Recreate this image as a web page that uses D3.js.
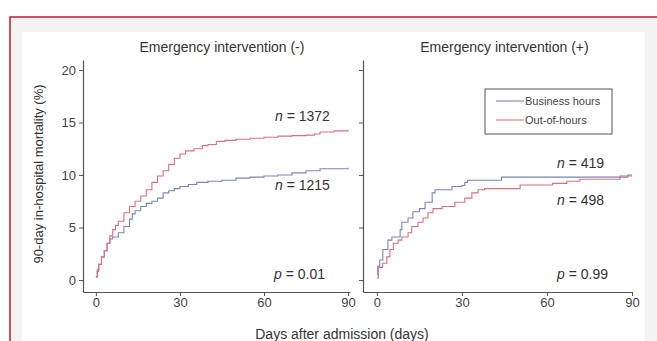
<!DOCTYPE html>
<html>
<head>
<meta charset="utf-8">
<script src="https://cdn.jsdelivr.net/npm/d3@7"></script>
<style>
  body { margin: 0; background: #fff; }
  svg { display: block; font-family: "Liberation Sans", Arial, sans-serif; }
  .axis path, .axis line { stroke: #555; }
  .axis text { fill: #444; font-size: 13px; }
</style>
</head>
<body>
<svg width="657" height="341"></svg>
<script>
const WIDTH = 657, HEIGHT = 341

// cumulative 90-day mortality (%): [day, value]
const leftBusiness = [[0,0.3],[0.5,0.8],[1,1.5],[2,2.2],[3,2.8],[4,3.5],[5,3.9],[6,4.1],[8,4.5],[10,5.1],[12,5.8],[13,6.3],[14,6.6],[16,7.0],[18,7.3],[20,7.5],[22,7.8],[24,8.3],[26,8.5],[28,8.7],[30,8.9],[33,9.1],[36,9.3],[40,9.4],[45,9.5],[50,9.7],[55,9.8],[60,9.9],[65,10.0],[70,10.2],[75,10.4],[80,10.6],[90,10.7]]
const leftOutOfHours = [[0,0.3],[0.5,1.0],[1,1.5],[2,2.2],[3,2.8],[4,3.5],[5,4.2],[6,4.8],[7,5.2],[8,5.6],[10,6.4],[12,7.0],[14,7.5],[16,8.0],[18,8.6],[20,9.3],[22,9.9],[24,10.4],[26,11.0],[28,11.6],[30,12.0],[32,12.3],[35,12.5],[38,12.8],[40,12.9],[43,13.2],[46,13.3],[50,13.4],[55,13.5],[60,13.6],[65,13.7],[70,13.75],[75,13.8],[78,13.9],[80,14.1],[85,14.2],[90,14.3]]
const rightBusiness = [[0,0.5],[0.3,1.3],[1,1.9],[2.1,2.9],[3.9,3.8],[5.3,4.1],[8.2,4.8],[8.8,5.5],[11,5.9],[12.7,6.5],[15,6.8],[17,7.4],[19.5,8.3],[20.5,8.6],[26.5,8.9],[30,9.0],[31,9.3],[32,9.5],[44,9.8],[88.5,10.0],[90,10.0]]
const rightOutOfHours = [[0,0.2],[0.5,1.2],[2,1.6],[3.5,2.2],[4.6,2.9],[5.8,3.5],[7.5,3.8],[8.8,4.1],[11,4.5],[12.3,5.1],[14.5,5.5],[16.3,5.9],[18,6.4],[19.8,6.8],[23,7.0],[27.5,7.4],[31,7.8],[33.5,8.3],[35.7,8.6],[38,8.7],[50.5,9.05],[62,9.2],[67,9.4],[71.6,9.6],[85.8,9.9],[90,9.9]]

const titles = ['Emergency intervention (-)', 'Emergency intervention (+)']
const seriesNames = ['Business hours', 'Out-of-hours']
const nLabels = [['1372', '1215'], ['419', '498']]
const pLabels = ['0.01', '0.99']
const xTicks = [0, 30, 60, 90]
const yTicks = [0, 5, 10, 15, 20]

const colors = ['#7b84b8', '#dc6f7c']

const svg = d3.select('svg')
  .attr('viewBox', `0 0 ${WIDTH} ${HEIGHT}`)

// outer frame + light margin of the figure
svg.append('rect').attr('x', 10).attr('y', 17).attr('width', 700).attr('height', 400)
  .attr('fill', '#f3f3f3').attr('stroke', '#c0182f').attr('stroke-width', 1.5)
svg.append('rect').attr('x', 22).attr('y', 32).attr('width', 623).attr('height', 400)
  .attr('fill', '#fff')

const yScale = d3.scaleLinear().domain([-1.14, 20.95]).range([292, 60])

const panels = [
  { data: [leftBusiness, leftOutOfHours], x: d3.scaleLinear().domain([-4.6, 90.7]).range([83, 350]),
    labels: true, nY: [121, 190], nX: 275, pX: 274 },
  { data: [rightBusiness, rightOutOfHours], x: d3.scaleLinear().domain([-4.9, 90]).range([363, 632]),
    labels: false, nY: [168, 205], nX: 557, pX: 557 }
]

panels.forEach((p, i) => {
  const g = svg.append('g')
  const xs = p.x

  const axisY = d3.axisLeft(yScale).tickValues(yTicks).tickSize(4).tickSizeOuter(0).tickPadding(3)
  if (!p.labels) axisY.tickFormat('')
  g.append('g').attr('class', 'axis')
    .attr('transform', `translate(${xs.range()[0]}, 0)`)
    .call(axisY)

  const axisX = d3.axisBottom(xs).tickValues(xTicks).tickSize(4).tickSizeOuter(0).tickPadding(2)
  g.append('g').attr('class', 'axis')
    .attr('transform', `translate(0, ${yScale.range()[0]})`)
    .call(axisX)

  g.selectAll('.axis .domain').attr('stroke-width', 1.2)

  const line = d3.line()
    .x(d => xs(d[0]))
    .y(d => yScale(d[1]))
    .curve(d3.curveStepAfter)

  p.data.forEach((s, k) => {
    g.append('path')
      .datum(s)
      .attr('fill', 'none')
      .attr('stroke', colors[k])
      .attr('stroke-width', 1.1)
      .attr('d', line)
  })

  g.append('text')
    .attr('x', (xs(0) + xs(90)) / 2)
    .attr('y', 52)
    .attr('text-anchor', 'middle')
    .attr('font-size', 14)
    .attr('fill', '#333')
    .text(titles[i])

  nLabels[i].forEach((n, k) => {
    const t = g.append('text').attr('x', p.nX).attr('y', p.nY[k])
      .attr('font-size', 14).attr('fill', '#333')
    t.append('tspan').attr('font-style', 'italic').text('n')
    t.append('tspan').text(' = ' + n)
  })

  const t = g.append('text').attr('x', p.pX).attr('y', 279)
    .attr('font-size', 14).attr('fill', '#333')
  t.append('tspan').attr('font-style', 'italic').text('p')
  t.append('tspan').text(' = ' + pLabels[i])
})

// legend
const legend = svg.append('g').attr('transform', 'translate(485, 89)')
legend.append('rect').attr('width', 127).attr('height', 45)
  .attr('fill', '#fff').attr('stroke', '#555').attr('stroke-width', 1)
seriesNames.forEach((name, k) => {
  legend.append('line').attr('x1', 11).attr('x2', 39)
    .attr('y1', 12 + k * 19).attr('y2', 12 + k * 19)
    .attr('stroke', colors[k]).attr('stroke-width', 1.1)
  legend.append('text').attr('x', 40).attr('y', 16 + k * 19)
    .attr('font-size', 11).attr('fill', '#444').text(name)
})

// axis titles
svg.append('text')
  .attr('transform', 'translate(43, 174) rotate(-90)')
  .attr('text-anchor', 'middle')
  .attr('font-size', 13)
  .attr('fill', '#333')
  .text('90-day in-hospital mortality (%)')

svg.append('text')
  .attr('x', 342)
  .attr('y', 339)
  .attr('text-anchor', 'middle')
  .attr('font-size', 14)
  .attr('fill', '#333')
  .text('Days after admission (days)')
</script>
</body>
</html>
